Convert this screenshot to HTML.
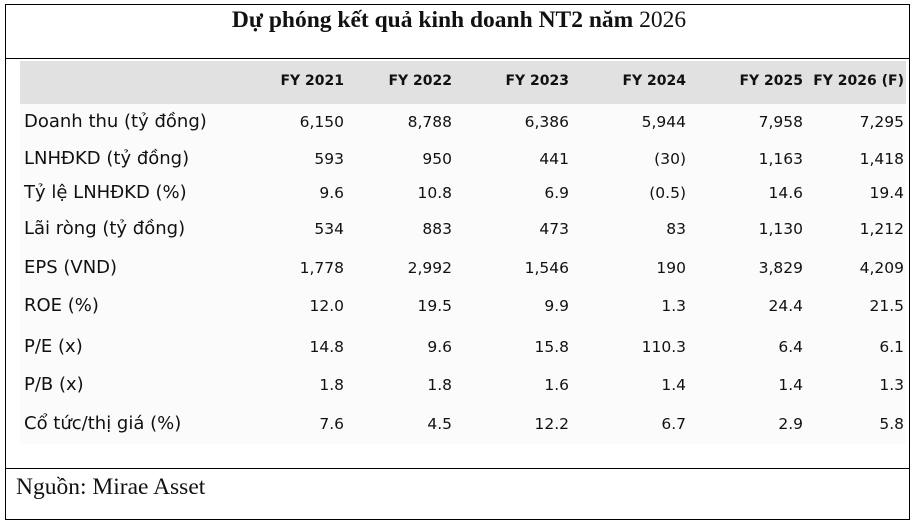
<!DOCTYPE html>
<html><head><meta charset="utf-8"><style>
body{margin:0;width:918px;height:530px;background:#fff;position:relative;overflow:hidden;font-family:"DejaVu Sans","Liberation Sans",sans-serif;color:#111}
.box{position:absolute;left:5px;top:4px;width:905px;height:516px;border:1.5px solid #000;box-sizing:border-box}
.hl{position:absolute;left:5px;width:905px;height:0;border-top:1.5px solid #000}
.title{position:absolute;left:0;width:918px;top:7px;text-align:center;font-family:"Liberation Serif",serif;font-size:23.5px}
.band{position:absolute;left:20px;top:61px;width:886px;height:43px;background:#e1e1e1}
.body{position:absolute;left:20px;top:104px;width:886px;height:340px;background:#fbfbfb}
.t{position:absolute;white-space:nowrap;font-size:15.5px}
.l{font-size:18px}
.h{position:absolute;white-space:nowrap;font-size:14px;font-weight:bold;top:73px}
.r{text-align:right}
.src{position:absolute;left:16px;top:474px;font-family:"Liberation Serif",serif;font-size:23.5px}
</style></head><body>
<div class="box"></div>
<div class="hl" style="top:58px"></div>
<div class="hl" style="top:468px"></div>
<div class="title"><b>Dự phóng kết quả kinh doanh NT2 năm</b> 2026</div>
<div class="band"></div>
<div class="body"></div>
<div id="c"></div>
<div class="src">Nguồn: Mirae Asset</div>
<script>
var rights=[344,452,569,686,803,904];
var heads=["FY 2021","FY 2022","FY 2023","FY 2024","FY 2025","FY 2026 (F)"];
var rows=[
["Doanh thu (tỷ đồng)","6,150","8,788","6,386","5,944","7,958","7,295"],
["LNHĐKD (tỷ đồng)","593","950","441","(30)","1,163","1,418"],
["Tỷ lệ LNHĐKD (%)","9.6","10.8","6.9","(0.5)","14.6","19.4"],
["Lãi ròng (tỷ đồng)","534","883","473","83","1,130","1,212"],
["EPS (VND)","1,778","2,992","1,546","190","3,829","4,209"],
["ROE (%)","12.0","19.5","9.9","1.3","24.4","21.5"],
["P/E (x)","14.8","9.6","15.8","110.3","6.4","6.1"],
["P/B (x)","1.8","1.8","1.6","1.4","1.4","1.3"],
["Cổ tức/thị giá (%)","7.6","4.5","12.2","6.7","2.9","5.8"]];
var ys=[122,159,193,229,268,306,347,385,424];
var h="";
heads.forEach(function(s,i){h+='<div class="h r" style="right:'+(918-rights[i])+'px">'+s+'</div>';});
rows.forEach(function(r,j){
 var top=ys[j]-11;
 h+='<div class="t l" style="left:24px;top:'+(top)+'px">'+r[0]+'</div>';
 for(var i=1;i<7;i++)h+='<div class="t r" style="right:'+(918-rights[i-1])+'px;top:'+(top+2)+'px">'+r[i]+'</div>';
});
document.getElementById("c").innerHTML=h;
</script>
</body></html>
